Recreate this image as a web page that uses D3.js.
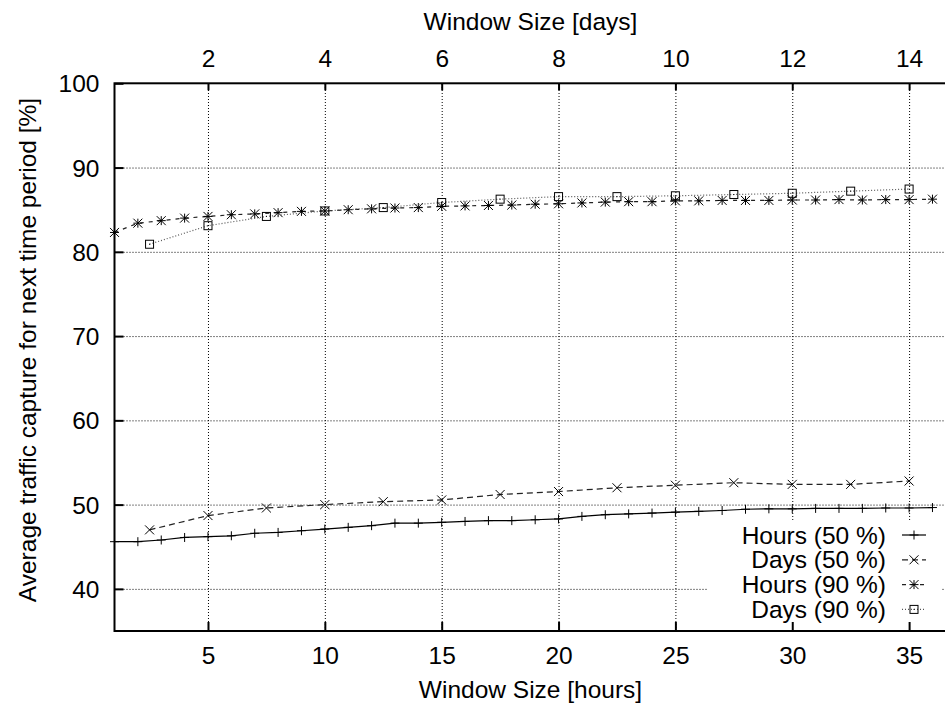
<!DOCTYPE html>
<html>
<head>
<meta charset="utf-8">
<script src="https://cdn.jsdelivr.net/npm/d3@7"></script>
<style>
  body { margin: 0; background: #fff; }
  svg { display: block; font-family: "Liberation Sans", Arial, sans-serif; }
</style>
</head>
<body>
<svg id="chart" width="945" height="707"></svg>
<script>
// --- données ---
const hours = [1,2,3,4,5,6,7,8,9,10,11,12,13,14,15,16,17,18,19,20,21,22,23,24,25,26,27,28,29,30,31,32,33,34,35,36];
const hours50 = [45.6,45.6,45.8,46.1,46.2,46.3,46.6,46.7,46.9,47.1,47.3,47.5,47.8,47.8,47.9,48.0,48.1,48.1,48.2,48.3,48.6,48.8,48.9,49.0,49.1,49.2,49.3,49.45,49.5,49.5,49.55,49.55,49.55,49.6,49.6,49.65];
const hours90 = [82.3,83.4,83.7,84.0,84.2,84.4,84.5,84.65,84.8,84.85,85.0,85.1,85.2,85.25,85.4,85.45,85.5,85.55,85.65,85.7,85.8,85.9,85.95,85.95,86.05,86.05,86.1,86.1,86.1,86.15,86.15,86.2,86.15,86.2,86.2,86.25];
const days = [1,2,3,4,5,6,7,8,9,10,11,12,13,14];
const days50 = [47.0,48.7,49.6,50.0,50.35,50.55,51.2,51.55,52.0,52.3,52.6,52.4,52.4,52.8];
const days90 = [80.9,83.1,84.2,84.85,85.25,85.85,86.25,86.55,86.55,86.65,86.8,86.95,87.2,87.45];

const hourTicks = [5,10,15,20,25,30,35];
const dayTicks = [2,4,6,8,10,12,14];
const yTicks = [40,50,60,70,80,90,100];

const seriesNames = ["Hours (50 %)", "Days (50 %)", "Hours (90 %)", "Days (90 %)"];

// --- dimensions ---
const mLeft = 114.5, mRight = 946.5, mTop = 83.3, mBottom = 631;
const fs = 24.5;

const svg = d3.select("#chart");

const x = d3.scaleLinear().domain([1, 36.6]).range([mLeft, mRight]);
const xTop = d3.scaleLinear().domain([0.4, 14.64]).range([mLeft, mRight]); // jour d -> heure 2.5*d
const y = d3.scaleLinear().domain([35, 100]).range([mBottom, mTop]);

// Grille pointillée
svg.append("g")
    .attr("transform", `translate(0,${mBottom})`)
    .call(d3.axisBottom(x).tickValues(hourTicks).tickSize(-(mBottom - mTop)).tickFormat(""))
    .call(g => g.select(".domain").remove())
    .selectAll("line").attr("stroke", "#000").attr("stroke-dasharray", "1,2");

svg.append("g")
    .attr("transform", `translate(${mLeft},0)`)
    .call(d3.axisLeft(y).tickValues(yTicks.slice(0, -1)).tickSize(-(mRight - mLeft)).tickFormat(""))
    .call(g => g.select(".domain").remove())
    .selectAll("line").attr("stroke", "#000").attr("stroke-dasharray", "1,2");

// --- séries ---
const series = [
    {name: seriesNames[0], xs: hours, ys: hours50, dash: null, color: "#000", marker: "plus"},
    {name: seriesNames[1], xs: days.map(d => d * 2.5), ys: days50, dash: "6,4", color: "#222", marker: "cross"},
    {name: seriesNames[2], xs: hours, ys: hours90, dash: "4,5", color: "#222", marker: "star"},
    {name: seriesNames[3], xs: days.map(d => d * 2.5), ys: days90, dash: "1,2", color: "#555", marker: "box"}
];

function drawMarker(g, type) {
    const r = 4.5;
    if (type === "plus" || type === "star") {
        g.append("line").attr("x1", -r).attr("x2", r).attr("y1", 0).attr("y2", 0);
        g.append("line").attr("x1", 0).attr("x2", 0).attr("y1", -r).attr("y2", r);
    }
    if (type === "cross" || type === "star") {
        g.append("line").attr("x1", -r).attr("x2", r).attr("y1", -r).attr("y2", r);
        g.append("line").attr("x1", -r).attr("x2", r).attr("y1", r).attr("y2", -r);
    }
    if (type === "box") {
        g.append("rect").attr("x", -4).attr("y", -4).attr("width", 8).attr("height", 8).attr("fill", "none");
        g.append("rect").attr("x", -0.5).attr("y", -0.5).attr("width", 1).attr("height", 1).attr("fill", "#000").attr("stroke", "none");
    }
    g.attr("stroke", "#000").attr("stroke-width", 1).attr("fill", "none");
}

const line = d3.line().x(d => x(d[0])).y(d => y(d[1]));

series.forEach(s => {
    const pts = s.xs.map((v, i) => [v, s.ys[i]]);
    svg.append("path")
        .datum(pts)
        .attr("d", line)
        .attr("fill", "none")
        .attr("stroke", s.color)
        .attr("stroke-width", 1.2)
        .attr("stroke-dasharray", s.dash);
    svg.append("g").selectAll("g")
        .data(pts)
        .join("g")
        .attr("transform", d => `translate(${x(d[0])},${y(d[1])})`)
        .each(function() { drawMarker(d3.select(this), s.marker); });
});

// --- légende (fond blanc) ---
svg.append("rect")
    .attr("x", 708).attr("y", 522).attr("width", 233).attr("height", 109)
    .attr("fill", "#fff");

const legend = svg.append("g").attr("font-size", fs);
series.forEach((s, i) => {
    const cy = 535 + i * 24.8;
    legend.append("text")
        .attr("x", 886).attr("y", cy + 8.5)
        .attr("text-anchor", "end")
        .text(s.name);
    legend.append("line")
        .attr("x1", 902).attr("x2", 926).attr("y1", cy).attr("y2", cy)
        .attr("stroke", s.color).attr("stroke-width", 1.2)
        .attr("stroke-dasharray", s.dash);
    drawMarker(legend.append("g").attr("transform", `translate(914,${cy})`), s.marker);
});

// --- axes ---
function styleAxis(g, dx, dy, anchor) {
    g.select(".domain").remove();
    g.attr("font-family", null).attr("font-size", fs);
    g.selectAll("line").attr("stroke", "#000").attr("stroke-width", 2);
    g.selectAll("text")
        .attr("fill", "#000").attr("text-anchor", anchor)
        .attr("x", dx).attr("y", dy).attr("dy", null);
}

svg.append("g")
    .attr("transform", `translate(0,${mBottom})`)
    .call(d3.axisBottom(x).tickValues(hourTicks).tickSize(-9).tickSizeOuter(0))
    .call(g => styleAxis(g, 0, 33, "middle"));

svg.append("g")
    .attr("transform", `translate(0,${mTop})`)
    .call(d3.axisTop(xTop).tickValues(dayTicks).tickSize(-7).tickSizeOuter(0))
    .call(g => styleAxis(g, 0, -16, "middle"));

svg.append("g")
    .attr("transform", `translate(${mLeft},0)`)
    .call(d3.axisLeft(y).tickValues(yTicks).tickSize(-9).tickSizeOuter(0))
    .call(g => styleAxis(g, -15, 8.5, "end"));

// cadre
svg.append("rect")
    .attr("x", mLeft).attr("y", mTop)
    .attr("width", mRight - mLeft).attr("height", mBottom - mTop)
    .attr("fill", "none").attr("stroke", "#000").attr("stroke-width", 2);

// titres des axes
const mid = (mLeft + mRight) / 2;
svg.append("text")
    .attr("x", mid).attr("y", 30)
    .attr("text-anchor", "middle").attr("font-size", fs)
    .text("Window Size [days]");
svg.append("text")
    .attr("x", mid).attr("y", 698)
    .attr("text-anchor", "middle").attr("font-size", fs)
    .text("Window Size [hours]");
svg.append("text")
    .attr("transform", "translate(36,350) rotate(-90)")
    .attr("text-anchor", "middle").attr("font-size", fs)
    .text("Average traffic capture for next time period [%]");
</script>
</body>
</html>
